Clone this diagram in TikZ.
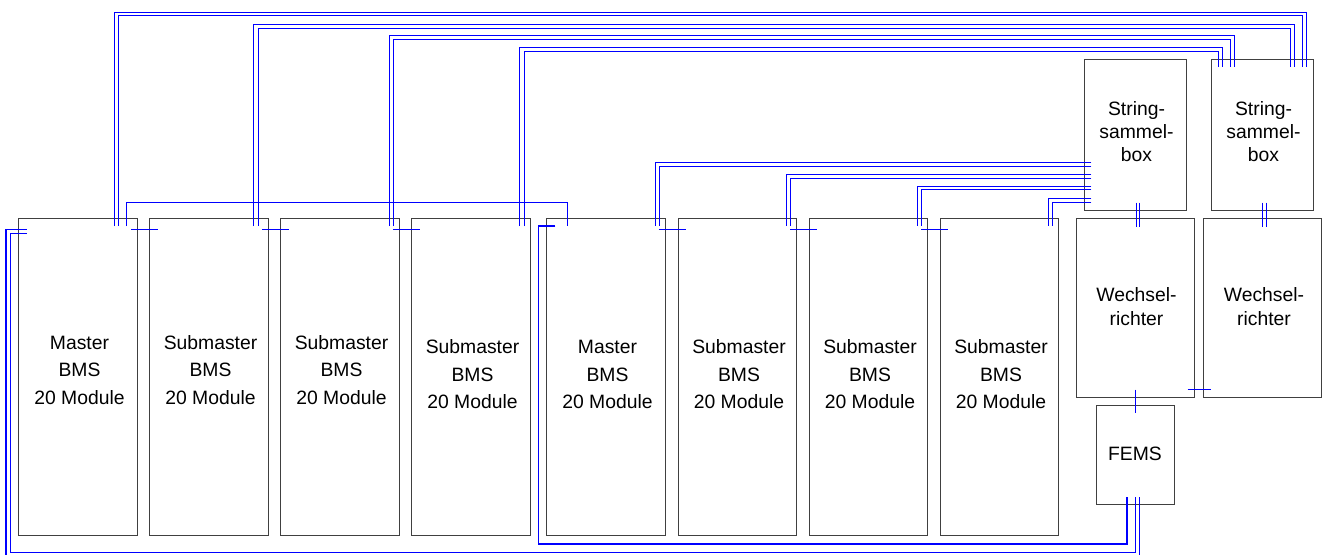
\documentclass[tikz,border=0pt]{standalone}
\usepackage{fontspec}
\setmainfont{Liberation Sans}
\begin{document}
\begin{tikzpicture}[x=0.75pt,y=-0.75pt,
  box/.style={draw=black!75, line width=0.75pt, inner sep=0pt},
  bmsbox/.style={box, minimum width=88.875pt, minimum height=237.75pt},
  sbbox/.style={box, minimum width=76.5pt, minimum height=112.875pt},
  wrbox/.style={box, minimum width=88.5pt, minimum height=133.875pt},
  femsbox/.style={box, minimum width=58.5pt, minimum height=74.25pt},
  wire/.style={draw=blue, line width=0.75pt},
  bus/.style={draw=blue, line width=1.2pt},
  bmstext/.style={align=center, inner sep=0pt, font=\fontsize{14.5pt}{20.6pt}\selectfont},
  smalltext/.style={align=center, inner sep=0pt, font=\fontsize{14.5pt}{17.5pt}\selectfont},
]
\useasboundingbox (0,0) rectangle (1331,554);

% BMS boxes
\node[bmsbox] (b1) at (78,376.5) {};
\node[bmsbox] (b2) at (209,376.5) {};
\node[bmsbox] (b3) at (340,376.5) {};
\node[bmsbox] (b4) at (471,376.5) {};
\node[bmsbox] (b5) at (606,376.5) {};
\node[bmsbox] (b6) at (737.5,376.5) {};
\node[bmsbox] (b7) at (868.5,376.5) {};
\node[bmsbox] (b8) at (999.5,376.5) {};
% other boxes
\node[sbbox] (sb1) at (1135,134.75) {};
\node[sbbox] (sb2) at (1262,134.75) {};
\node[wrbox] (wr1) at (1135,307.75) {};
\node[wrbox] (wr2) at (1262.5,307.75) {};
\node[femsbox] (fems) at (1135,454.5) {};

% texts
\node[bmstext] (t1) at ([shift={(1.5,-5.3)}]b1.center) {\strut Master\\BMS\\20 Module\strut};
\node[bmstext] (t2) at ([shift={(1.5,-5.3)}]b2.center) {\strut Submaster\\BMS\\20 Module\strut};
\node[bmstext] (t3) at ([shift={(1.5,-5.3)}]b3.center) {\strut Submaster\\BMS\\20 Module\strut};
\node[bmstext] (t4) at ([shift={(1.5,-1)}]b4.center) {\strut Submaster\\BMS\\20 Module\strut};
\node[bmstext] (t5) at ([shift={(1.5,-1)}]b5.center) {\strut Master\\BMS\\20 Module\strut};
\node[bmstext] (t6) at ([shift={(1.5,-1)}]b6.center) {\strut Submaster\\BMS\\20 Module\strut};
\node[bmstext] (t7) at ([shift={(1.5,-1)}]b7.center) {\strut Submaster\\BMS\\20 Module\strut};
\node[bmstext] (t8) at ([shift={(1.5,-1)}]b8.center) {\strut Submaster\\BMS\\20 Module\strut};
\node[smalltext] (ts1) at ([shift={(1.5,-1)}]sb1.center) {\strut String-\\sammel-\\box\strut};
\node[smalltext] (ts2) at ([shift={(1.5,-1)}]sb2.center) {\strut String-\\sammel-\\box\strut};
\node[smalltext] (tw1) at ([shift={(1.5,1)}]wr1.center) {\strut Wechsel-\\richter\strut};
\node[smalltext] (tw2) at ([shift={(1.5,1)}]wr2.center) {\strut Wechsel-\\richter\strut};
\node[smalltext] (tf) at ([shift={(0,1.1)}]fems.center) {\strut FEMS};

% pins in String box 2
\coordinate (s2a) at ([shift={(-6.7,8.2)}]sb2.north east);
\coordinate (s2b) at ([shift={(-10.7,8.2)}]sb2.north east);
\coordinate (s2c) at ([shift={(-18.7,8.2)}]sb2.north east);
\coordinate (s2d) at ([shift={(-22.7,8.2)}]sb2.north east);
\coordinate (s2e) at ([shift={(24,8.2)}]sb2.north west);
\coordinate (s2f) at ([shift={(20,8.2)}]sb2.north west);
\coordinate (s2g) at ([shift={(12,8.2)}]sb2.north west);
\coordinate (s2h) at ([shift={(8,8.2)}]sb2.north west);

% top wires BMS 1-4 -> String box 2
\draw[wire] ([shift={(-22.9,8.5)}]b1.north east) |- (s2a |- 0,12) -- (s2a);
\draw[wire] ([shift={(-19,8.5)}]b1.north east) |- (s2b |- 0,15.7) -- (s2b);
\draw[wire] ([shift={(-15,8.5)}]b2.north east) |- (s2c |- 0,24) -- (s2c);
\draw[wire] ([shift={(-10.7,8.5)}]b2.north east) |- (s2d |- 0,28) -- (s2d);
\draw[wire] ([shift={(-10.5,8.5)}]b3.north east) |- (s2e |- 0,35.7) -- (s2e);
\draw[wire] ([shift={(-6.5,8.5)}]b3.north east) |- (s2f |- 0,39.7) -- (s2f);
\draw[wire] ([shift={(-11,8.5)}]b4.north east) |- (s2g |- 0,47.7) -- (s2g);
\draw[wire] ([shift={(-6.7,8.5)}]b4.north east) |- (s2h |- 0,51.7) -- (s2h);

% String box 1 -> BMS 5-8
\draw[wire] ([shift={(7.8,103.8)}]sb1.north west) -| ([shift={(-10.25,8.5)}]b5.north east);
\draw[wire] ([shift={(7.8,107.2)}]sb1.north west) -| ([shift={(-6,8.5)}]b5.north east);
\draw[wire] ([shift={(7.8,115.5)}]sb1.north west) -| ([shift={(-10.75,8.5)}]b6.north east);
\draw[wire] ([shift={(7.8,119)}]sb1.north west) -| ([shift={(-6.5,8.5)}]b6.north east);
\draw[wire] ([shift={(7.8,127.3)}]sb1.north west) -| ([shift={(-10.75,8.5)}]b7.north east);
\draw[wire] ([shift={(7.8,130.9)}]sb1.north west) -| ([shift={(-6.5,8.5)}]b7.north east);
\draw[wire] ([shift={(7.8,139)}]sb1.north west) -| ([shift={(-10.5,8.5)}]b8.north east);
\draw[wire] ([shift={(7.8,143)}]sb1.north west) -| ([shift={(-6.5,8.5)}]b8.north east);

% short links between neighbouring BMS boxes
\draw[wire] ([shift={(-7,12)}]b1.north east) -- ([shift={(8.5,12)}]b2.north west);
\draw[wire] ([shift={(-7,12)}]b2.north east) -- ([shift={(8.5,12)}]b3.north west);
\draw[wire] ([shift={(-7,12)}]b3.north east) -- ([shift={(8.5,12)}]b4.north west);
\draw[wire] ([shift={(-7,12)}]b5.north east) -- ([shift={(8.5,12)}]b6.north west);
\draw[wire] ([shift={(-7,12)}]b6.north east) -- ([shift={(8.5,12)}]b7.north west);
\draw[wire] ([shift={(-7,12)}]b7.north east) -- ([shift={(8.5,12)}]b8.north west);

% Master 1 -> Master 2
\coordinate (m1) at ([shift={(-11,8.5)}]b1.north east);
\coordinate (m2) at ([shift={(20.75,8.5)}]b5.north west);
\draw[wire] (m1) |- (m2 |- 0,202.3) -- (m2);

% FEMS pins
\coordinate (fi) at ([shift={(0.8,-7.3)}]fems.south);
\coordinate (fo) at ([shift={(4.3,-7.3)}]fems.south);
\coordinate (fb) at ([shift={(-8,-7.3)}]fems.south);

% left bus Master 1 -> FEMS
\draw[bus] ([shift={(8.5,12)}]b1.north west) -- ++(-20.55,0) |- (fo |- 0,557) -- (fo);
\draw[wire] ([shift={(8.5,16)}]b1.north west) -- ++(-16,0) |- (fi |- 0,552.3) -- (fi);
% bus Master 2 -> FEMS
\draw[bus] ([shift={(9,8.5)}]b5.north west) -- ++(-16.75,0) |- (fb |- 0,544) -- (fb);

% String boxes -> inverters
\draw[wire] ([shift={(1,-8)}]sb1.south) -- ++(0,24.7);
\draw[wire] ([shift={(4.3,-8)}]sb1.south) -- ++(0,24.7);
\draw[wire] ([shift={(0.7,-8)}]sb2.south) -- ++(0,24.7);
\draw[wire] ([shift={(4,-8)}]sb2.south) -- ++(0,24.7);
% inverter -> FEMS, inverter -> inverter
\draw[wire] ([shift={(0.5,-8)}]wr1.south) -- ([shift={(0.5,8)}]fems.north);
\draw[wire] ([shift={(-7,-8.5)}]wr1.south east) -- ([shift={(8,-8.5)}]wr2.south west);
\end{tikzpicture}
\end{document}
